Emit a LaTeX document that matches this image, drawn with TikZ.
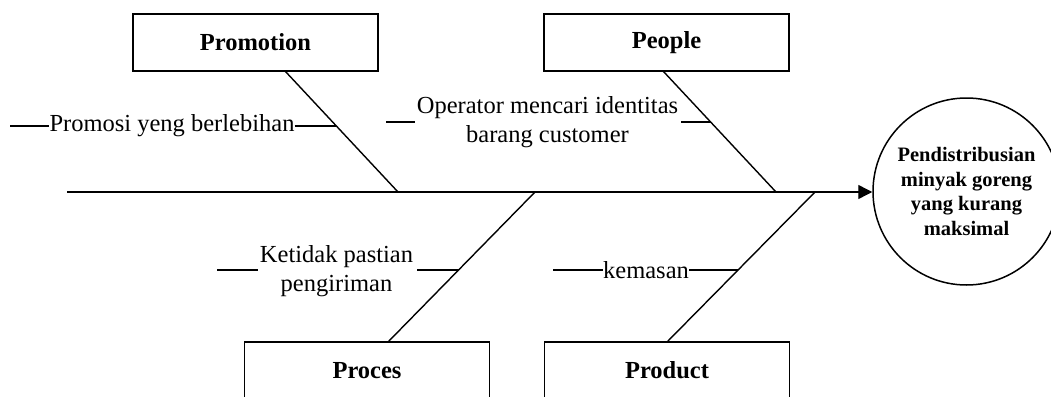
\documentclass[tikz,border=0pt]{standalone}
\usepackage{fontspec}
\setmainfont{Liberation Serif}
\usetikzlibrary{arrows.meta}
\tikzset{
  catbox/.style={draw, line width=1.6pt, minimum width=245pt, minimum height=57pt, inner sep=0pt,
    font=\fontsize{24.5}{29}\selectfont\bfseries},
  cause/.style={inner sep=0pt, align=center, font=\fontsize{24.5}{29.5}\selectfont},
  bone/.style={line width=1.4pt},
  tick/.style={line width=1.4pt},
  effect/.style={draw, circle, line width=1.5pt, minimum size=187pt, inner sep=2pt, align=center,
    font=\fontsize{20.5}{24.5}\selectfont\bfseries}
}
\begin{document}
\begin{tikzpicture}[x=1pt,y=-1pt]
\useasboundingbox (0,0) rectangle (1051,396);
% effect
\node[effect] (goal) at (966.5,191.5) {Pendistribusian\\minyak goreng\\yang kurang\\maksimal};
% spine
\coordinate (tail) at (67,192);
\draw[bone,-{Triangle[length=14pt,width=14pt]}] (tail) -- (tail -| goal.west);
% category boxes
\node[catbox] (promo) at (255.5,42.5) {Promotion};
\node[catbox] (people) at (666.5,42.5) {People};
\node[catbox] (proces) at (367,370.5) {Proces};
\node[catbox] (product) at (667,370.5) {Product};
% bone ends
\coordinate (promoTop) at (285,71);
\coordinate (promoEnd) at (398,192);
\coordinate (peopleTop) at (663,71);
\coordinate (peopleEnd) at (776,192);
\coordinate (procesEnd) at (535,192);
\coordinate (procesBot) at (388,342);
\coordinate (productEnd) at (815,192);
\coordinate (productBot) at (667,342);
\draw[bone] (promoTop) -- (promoEnd);
\draw[bone] (peopleTop) -- (peopleEnd);
\draw[bone] (procesEnd) -- (procesBot);
\draw[bone] (productEnd) -- (productBot);
% causes
\node[cause] (c1) at (172,126) {Promosi yeng berlebihan};
\coordinate (c1l) at (10,126);
\coordinate (c1r) at (336.4,126);
\draw[tick] (c1l) -- (c1l -| c1.west);
\draw[tick] (c1r -| c1.east) -- (c1r);

\node[cause] (c2) at (547.5,122) {Operator mencari identitas\\barang customer};
\coordinate (c2l) at (386,122);
\coordinate (c2r) at (710.6,122);
\draw[tick] (c2l) -- (415,122);
\draw[tick] (681,122) -- (c2r);

\node[cause] (c3) at (336.5,271) {Ketidak pastian\\pengiriman};
\coordinate (c3l) at (217,270);
\coordinate (c3r) at (458.6,270);
\draw[tick] (c3l) -- (258,270);
\draw[tick] (417,270) -- (c3r);

\node[cause] (c4) at (646,270.5) {kemasan};
\coordinate (c4l) at (553,270);
\coordinate (c4r) at (738,270);
\draw[tick] (c4l) -- (c4l -| c4.west);
\draw[tick] (c4r -| c4.east) -- (c4r);
\end{tikzpicture}
\end{document}
